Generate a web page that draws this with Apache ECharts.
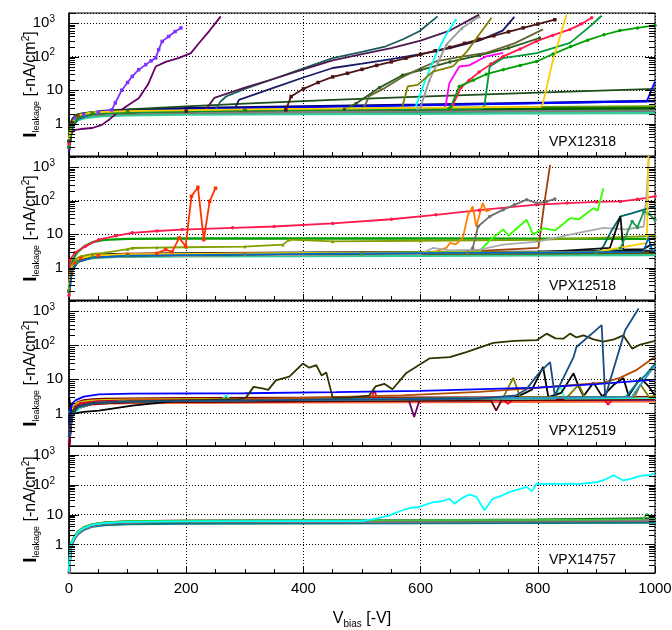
<!DOCTYPE html>
<html>
<head>
<meta charset="utf-8">
<script src="https://cdn.jsdelivr.net/npm/echarts@6/dist/echarts.min.js"></script>
<style>html,body{margin:0;padding:0;background:#fff}#c{width:672px;height:630px}</style>
</head>
<body>
<div id="c"></div>
<script>
// ---------------- DATA ----------------
const panelNames = ['VPX12318', 'VPX12518', 'VPX12519', 'VPX14757'];
const xTicks = [0, 200, 400, 600, 800, 1000];
const vBase = [0, 3, 6, 10, 15, 25, 40, 60, 100, 200, 400, 600, 800, 1000];

// Panel 1 (VPX12318) baseline currents at vBase
const p1Yellow = [0.35, 0.9, 1.4, 1.7, 1.85, 2.0, 2.15, 2.25, 2.35, 2.45, 2.55, 2.65, 2.75, 2.85];
const p1Orange = [0.3, 0.8, 1.3, 1.6, 1.8, 1.95, 2.05, 2.15, 2.25, 2.35, 2.45, 2.55, 2.6, 2.7];
const p1Red = [0.25, 0.7, 1.1, 1.45, 1.65, 1.85, 2.0, 2.1, 2.2, 2.3, 2.4, 2.45, 2.5, 2.55];
const p1BlueB = [0.15, 0.5, 0.9, 1.3, 1.55, 1.75, 1.9, 2.0, 2.1, 2.2, 2.3, 2.35, 2.4, 2.45];
const p1OliveGreen = [0.3, 0.7, 1.1, 1.4, 1.6, 1.8, 2.0, 2.15, 2.3, 2.5, 2.7, 2.9, 3.1, 3.3];
const p1Teal = [0.2, 0.5, 0.8, 1.1, 1.3, 1.5, 1.7, 1.85, 2.0, 2.1, 2.2, 2.3, 2.35, 2.4];
const p1SeaGreen = [0.3, 0.6, 0.9, 1.1, 1.3, 1.45, 1.6, 1.7, 1.8, 1.9, 1.95, 2.0, 2.05, 2.1];
const p1Green = [0.25, 0.6, 1.0, 1.3, 1.5, 1.7, 1.85, 1.95, 2.05, 2.15, 2.3, 2.4, 2.5, 2.6];
const p1Navy = [0.3, 0.8, 1.3, 1.6, 1.8, 2.0, 2.2, 2.4, 2.6, 2.9, 3.3, 3.7, 4.2, 4.8];
const p1GrayB = [0.2, 0.6, 1.0, 1.3, 1.5, 1.7, 1.85, 1.95, 2.05, 2.15, 2.25, 2.35, 2.45, 2.5];
const p1DarkGreen = [0.4, 0.9, 1.4, 1.7, 1.9, 2.05, 2.2, 2.3, 2.4, 2.5, 2.6, 2.7, 2.8, 2.9];

// Panel 1 breakdown curves [V, I]
const p1Violet = [[0,0.2],[4,0.9],[10,1.5],[25,1.9],[50,2.2],[73,2.6],[79,4.2],[90,10],[100,17],[108,26],[119,41],[131,58],[140,75],[148,92],[153,162],[159,285],[170,400],[181,560],[191,720]];
const p1Purple = [[0,0.15],[4,0.5],[8,0.65],[20,0.7],[40,0.75],[56,0.93],[70,1.4],[85,2.3],[100,3.5],[119,5.8],[135,15],[148,51],[165,70],[188,92],[208,128],[222,256],[240,600],[259,1590]];
const p1DarkTeal = [[0,0.3],[5,1.1],[15,1.7],[40,2.0],[100,2.2],[200,2.4],[250,2.6],[258,4.5],[268,6.5],[300,11],[350,22],[400,45],[450,90],[500,140],[541,204],[570,330],[598,570],[629,1590]];
const p1DarkPurple = [[0,0.3],[5,1.1],[15,1.7],[40,2.0],[100,2.2],[200,2.4],[233,2.6],[248,5.9],[300,12],[350,22],[400,42],[450,78],[500,120],[550,180],[600,300],[650,600],[700,1790]];
const p1Navy2 = [[0,0.3],[5,1.1],[15,1.7],[40,2.0],[100,2.2],[200,2.4],[282,2.6],[290,5.2],[350,12],[400,24],[450,46],[500,62],[550,85],[600,120],[650,180],[700,300],[740,600],[760,1540]];
const p1Maroon = [[0,0.3],[5,1.1],[15,1.7],[40,2.0],[100,2.2],[200,2.4],[300,2.5],[370,2.6],[379,6.5],[400,11],[425,17],[450,25],[475,32],[500,42],[525,55],[550,70],[575,90],[600,117],[625,150],[650,190],[675,250],[700,330],[725,420],[750,550],[775,720],[800,940],[829,1260]];
const p1DarkGreenLong = [[0,0.4],[5,1.2],[15,1.8],[40,2.1],[79,2.6],[100,2.7],[200,3.3],[300,4.0],[450,5.2],[600,6.5],[800,8.5],[1000,11]];
const p1DarkGreen2 = [[0,0.3],[5,1.0],[15,1.6],[40,2.0],[100,2.2],[300,2.5],[470,2.7],[490,4],[530,12],[569,28],[600,40],[650,70],[700,110],[750,180],[803,360]];
const p1OliveDark = [[0,0.3],[5,1.0],[15,1.6],[40,2.0],[100,2.2],[300,2.5],[500,2.8],[505,3.5],[512,6.6],[540,12],[569,25],[600,45],[626,72],[670,100],[712,130],[760,250],[809,650]];
const p1Gray = [[0,0.25],[5,0.9],[15,1.6],[40,2.0],[100,2.2],[300,2.5],[595,2.9],[600,3.2],[615,20],[630,70],[644,230],[670,700],[700,1580]];
const p1Cyan = [[0,0.3],[5,1.0],[15,1.7],[40,2.1],[100,2.3],[300,2.6],[588,2.9],[592,3.3],[606,16],[626,115],[645,500],[661,1330]];
const p1Olive = [[0,0.3],[5,1.0],[15,1.7],[40,2.1],[100,2.3],[300,2.6],[565,2.9],[569,3.3],[578,13],[595,14.5],[621,36],[655,51],[680,150],[700,460],[721,1450]];
const p1Magenta = [[0,0.2],[5,0.8],[15,1.5],[40,2.0],[100,2.2],[300,2.5],[640,2.8],[643,3.7],[649,16],[666,51],[683,55],[700,80],[712,102],[741,130]];
const p1RedBd = [[0,0.25],[5,0.9],[15,1.6],[40,2.0],[100,2.2],[300,2.5],[650,2.8],[655,3.7],[669,12],[683,20],[700,35],[720,60],[741,102],[770,170],[798,290],[825,430],[855,650],[875,950],[892,1440]];
const p1GreenA = [[0,0.2],[5,0.8],[15,1.5],[40,2.0],[100,2.2],[300,2.5],[648,2.8],[652,3.3],[666,13],[690,20],[712,30],[741,41],[770,55],[798,72],[826,120],[856,200],[885,310],[913,450],[940,600],[970,720],[1000,850]];
const p1GreenB = [[0,0.2],[5,0.8],[15,1.5],[40,2.0],[100,2.2],[300,2.5],[705,2.8],[709,3.5],[718,51],[741,91],[798,128],[855,257],[889,800],[909,1660]];
const p1Gold = [[0,0.35],[5,1.1],[15,1.8],[40,2.2],[100,2.4],[300,2.7],[805,3.2],[809,4.2],[826,81],[849,1780]];
const p1Blue = [[0,0.15],[5,0.7],[15,1.4],[40,2.0],[100,2.4],[300,2.9],[500,3.3],[800,4.1],[986,4.7],[1000,18]];

// Panel 2 (VPX12518) baseline currents at vBase
const p2Blue = [0.15, 0.6, 1.1, 1.5, 1.8, 2.1, 2.3, 2.4, 2.5, 2.6, 2.7, 2.8, 2.9, 3.0];
const p2Gray = [0.2, 0.7, 1.2, 1.6, 1.9, 2.1, 2.25, 2.35, 2.45, 2.5, 2.55, 2.6, 2.7, 2.8];
const p2Teal = [0.15, 0.5, 1.0, 1.4, 1.7, 1.9, 2.05, 2.15, 2.2, 2.3, 2.4, 2.45, 2.5, 2.6];
const p2Brown = [0.2, 0.6, 1.0, 1.4, 1.7, 1.9, 2.1, 2.2, 2.3, 2.4, 2.5, 2.6, 2.65, 2.7];
const p2SeaGreen = [0.2, 0.6, 1.0, 1.3, 1.6, 1.8, 1.95, 2.05, 2.15, 2.2, 2.25, 2.3, 2.35, 2.4];
const p2Black = [0.2, 0.7, 1.2, 1.6, 1.9, 2.2, 2.4, 2.5, 2.6, 2.7, 2.8, 2.9, 3.0, 3.2];
const p2Green = [0.3, 1.0, 1.6, 2.3, 3.0, 4.2, 5.8, 6.8, 7.3, 7.5, 7.5, 7.5, 7.4, 7.3];
const p2DarkOlive = [0.2, 0.7, 1.2, 1.6, 1.9, 2.1, 2.3, 2.4, 2.5, 2.55, 2.6, 2.65, 2.7, 2.8];

// Panel 2 curves [V, I]
const p2OliveGreen = [[0,0.25],[3,0.8],[6,1.3],[10,1.7],[20,2.2],[40,2.6],[60,2.8],[100,3.6],[108,3.9],[150,4.0],[200,4.1],[300,4.3],[365,4.9],[376,6.9],[450,6.1],[600,6.4],[800,6.8],[1000,9]];
const p2Red = [[0,0.15],[2,1.8],[10,2.8],[28,4.4],[51,6.9],[80,9],[108,11],[150,12.5],[193,13.8],[279,15.5],[350,17],[450,21],[550,28],[626,38],[700,52],[798,76],[850,85],[900,92],[941,95],[970,110],[1000,135]];
const p2OrangeRed = [[0,0.2],[4,0.8],[10,1.4],[20,1.9],[50,2.3],[100,2.5],[150,2.7],[165,3.5],[176,3.0],[188,7.8],[199,4.4],[209,135],[220,250],[230,6.9],[240,95],[250,235]];
const p2Orange = [[0,0.25],[5,1.0],[15,1.8],[40,2.3],[100,2.5],[300,2.7],[500,2.85],[621,2.9],[644,3.9],[650,5.5],[660,5.0],[672,7.8],[681,38],[689,67],[695,17],[706,85],[712,48],[720,54]];
const p2DarkGray = [[0,0.2],[5,0.9],[15,1.6],[40,2.1],[100,2.3],[300,2.5],[500,2.6],[680,2.8],[689,3.9],[698,17],[718,34],[741,54],[760,75],[781,107],[798,85],[815,95],[829,112]];
const p2BrownBd = [[0,0.2],[5,0.9],[15,1.5],[40,2.0],[100,2.2],[300,2.4],[600,2.6],[801,3.9],[811,80],[821,1170]];
const p2LawnGreen = [[0,0.25],[5,1],[15,1.7],[40,2.2],[100,2.4],[300,2.6],[500,2.8],[700,3.0],[706,4.0],[720,7],[741,14],[750,9],[781,27],[792,9.8],[810,15],[830,13],[855,30],[870,28],[895,60],[902,50],[912,235]];
const p2LightGray = [[0,0.2],[5,0.8],[15,1.5],[40,2.0],[100,2.2],[300,2.4],[500,2.5],[600,2.6],[621,3.9],[650,3.3],[700,3.5],[741,4.9],[800,6],[855,9.8],[880,12],[912,15.5],[950,14],[981,17],[986,200],[990,2500]];
const p2DarkTeal = [[0,0.2],[5,0.9],[15,1.6],[40,2.1],[100,2.3],[400,2.6],[700,2.8],[905,3.0],[912,4.4],[925,12],[941,34],[960,42],[981,54],[1000,65]];
const p2BlackBd = [[0,0.2],[5,0.9],[15,1.6],[40,2.1],[100,2.3],[400,2.6],[800,2.9],[923,3.9],[941,34],[946,3.5],[980,3.6],[990,4.5],[1000,5]];
const p2SeaGreenBd = [[0,0.2],[5,0.8],[15,1.5],[40,2.0],[100,2.3],[500,2.7],[900,2.9],[941,3.8],[961,24],[970,16],[981,48],[990,40],[1000,27]];
const p2Yellow = [[0,0.3],[5,1.1],[15,1.8],[40,2.3],[100,2.5],[500,2.8],[900,3.0],[986,5.5],[989,2500]];
const p2Blue2 = [[0,0.2],[5,0.8],[15,1.5],[40,2.0],[100,2.3],[500,2.7],[980,3.0],[989,8],[995,3.2],[1000,3.3]];

// Panel 3 (VPX12519) baseline currents at vBase
const p3Orange = [0.12, 0.5, 0.9, 1.2, 1.5, 1.7, 1.85, 1.95, 2.0, 2.05, 2.1, 2.15, 2.2, 2.25];
const p3Green = [0.15, 0.7, 1.2, 1.6, 1.9, 2.1, 2.25, 2.35, 2.45, 2.5, 2.55, 2.6, 2.65, 2.7];
const p3Gray = [0.15, 0.6, 1.1, 1.5, 1.8, 2.0, 2.15, 2.25, 2.3, 2.35, 2.4, 2.45, 2.5, 2.55];
const p3DarkRed = [0.2, 0.8, 1.3, 1.8, 2.1, 2.4, 2.55, 2.65, 2.7, 2.8, 2.85, 2.9, 2.95, 3.0];
const p3SeaGreen = [0.2, 0.7, 1.2, 1.6, 1.9, 2.1, 2.25, 2.35, 2.4, 2.45, 2.5, 2.55, 2.6, 2.65];
const p3CyanB = [1.1, 0.95, 0.9, 1.2, 1.6, 1.9, 2.1, 2.2, 2.3, 2.35, 2.4, 2.45, 2.5, 2.55];
const p3Violet = [0.1, 0.5, 1.0, 1.4, 1.7, 1.95, 2.1, 2.2, 2.3, 2.35, 2.4, 2.45, 2.5, 2.55];
const p3Yellow = [0.2, 0.8, 1.3, 1.7, 2.0, 2.2, 2.35, 2.45, 2.5, 2.55, 2.6, 2.65, 2.7, 2.75];

// Panel 3 curves [V, I]
const p3Blue = [[0,0.2],[2,1.2],[6,2.0],[11,2.4],[25,3.1],[51,3.6],[108,3.8],[300,3.9],[455,4.2],[600,4.6],[798,5.7],[900,7.2],[1000,9.8]];
const p3DarkOlive = [[0,0.3],[5,1.1],[15,1.6],[40,2.0],[100,2.2],[200,2.4],[290,2.6],[302,2.9],[315,6],[330,5.4],[340,4.9],[353,9.3],[376,12],[399,29],[410,22],[422,26],[431,13],[439,16],[450,2.9],[480,2.9],[512,3.3],[523,6.2],[538,7.4],[552,5.1],[575,15],[615,41],[650,45],[678,63],[724,117],[760,135],[798,141],[815,220],[830,160],[844,158],[855,220],[866,170],[878,195],[895,150],[912,128],[930,150],[946,195],[961,80],[975,105],[1000,134]];
const p3Navy = [[0,0.2],[5,0.9],[15,1.5],[40,2.0],[100,2.2],[400,2.5],[700,2.7],[763,3.4],[780,5],[803,16],[821,32],[829,3.4],[861,45],[866,89],[909,390],[915,3.0],[949,275],[972,1200]];
const p3Brown = [[0,0.2],[5,0.9],[15,1.6],[40,2.0],[100,2.3],[300,2.6],[569,3.4],[700,4.3],[798,5.6],[912,8],[940,11],[969,19],[1000,46]];
const p3Black = [[0,3],[3,1.5],[6,0.9],[10,1.0],[25,1.1],[51,1.2],[108,1.7],[193,2.4],[300,2.5],[500,2.6],[760,2.8],[790,5],[809,23],[818,3.0],[840,4],[861,15],[870,6],[878,3.2],[895,8],[910,3.1],[930,7],[946,11],[955,3.3],[975,11],[990,6],[1000,3.3]];
const p3Olive = [[0,0.2],[5,0.9],[15,1.5],[40,2.0],[100,2.3],[400,2.5],[740,2.7],[758,11],[770,3.0],[850,3.0],[870,7],[880,3.0],[965,3.0],[975,7],[990,3.0],[1000,3.3]];
const p3Teal = [[0,0.2],[5,0.9],[15,1.5],[40,2.0],[100,2.3],[500,2.6],[950,3.0],[970,8],[985,14],[1000,29]];
const p3SteelBlue = [[0,0.2],[5,0.9],[15,1.5],[40,2.0],[100,2.3],[500,2.6],[960,3.0],[980,9],[1000,25]];
const p3Aqua = [[0,1.2],[3,1.0],[6,0.85],[10,1.0],[20,1.5],[40,2.0],[100,2.2],[200,2.3],[260,2.4],[268,3.4],[276,2.4],[500,2.55],[830,2.7],[838,6.6],[846,2.7],[1000,2.8]];
const p3Purple = [[0,0.1],[5,0.8],[15,1.4],[40,1.9],[100,2.1],[400,2.3],[580,2.4],[589,0.78],[598,2.4],[1000,2.6]];
const p3RedSp = [[0,0.1],[4,0.7],[10,1.4],[40,2.0],[100,2.2],[500,2.5],[515,2.5],[521,4.7],[527,2.5],[740,2.6],[749,1.9],[758,2.6],[912,2.7],[920,1.8],[928,2.7],[1000,2.8]];
const p3Maroon = [[0,0.1],[5,0.8],[15,1.4],[40,1.9],[100,2.1],[500,2.3],[720,2.4],[729,1.2],[738,2.4],[1000,2.6]];
const p3Crimson = [[0,0.08],[3,0.4],[6,1.0],[10,1.6],[20,2.0],[50,2.3],[100,2.4],[500,2.6],[1000,2.8]];

// Panel 4 (VPX14757) baseline currents at vBase
const p4Gray = [0.12, 1.0, 1.3, 1.9, 2.6, 3.6, 4.6, 5.3, 5.8, 6.1, 6.2, 6.3, 6.4, 6.6];
const p4Teal = [0.1, 0.8, 1.1, 1.6, 2.2, 3.1, 4.0, 4.5, 4.8, 5.0, 5.1, 5.2, 5.3, 5.4];
const p4Red = [0.12, 1.0, 1.3, 1.9, 2.6, 3.7, 4.7, 5.4, 5.9, 6.2, 6.3, 6.4, 6.5, 6.6];
const p4DarkGreen = [0.12, 0.9, 1.2, 1.8, 2.5, 3.5, 4.5, 5.2, 5.7, 6.0, 6.2, 6.4, 6.8, 7.5];
const p4Olive = [0.1, 0.9, 1.2, 1.7, 2.4, 3.4, 4.4, 5.1, 5.6, 5.9, 6.0, 6.1, 6.2, 6.3];
const p4DarkGray = [0.11, 0.9, 1.2, 1.8, 2.5, 3.5, 4.5, 5.2, 5.7, 6.0, 6.1, 6.2, 6.3, 6.4];
const p4Pink = [0.1, 0.85, 1.15, 1.7, 2.4, 3.3, 4.3, 5.0, 5.5, 5.8, 5.9, 6.0, 6.1, 6.2];

// Panel 4 curves [V, I]
const p4Green = [[0,0.15],[3,1.1],[6,1.4],[10,2.0],[15,2.7],[25,3.8],[40,4.8],[60,5.5],[100,6.0],[200,6.3],[400,6.4],[600,6.5],[800,6.7],[980,7.0],[986,11],[992,7.2],[1000,7.2]];
const p4Cyan = [[0,0.12],[3,1.0],[6,1.3],[10,1.8],[15,2.5],[25,3.5],[40,4.5],[60,5.2],[100,5.7],[200,5.9],[400,6.0],[500,6.1],[524,7.3],[546,9.3],[569,14],[583,17],[598,18],[610,22],[621,26],[635,28],[649,34],[658,23],[670,35],[683,47],[695,40],[709,14],[723,34],[737,42],[752,58],[767,70],[781,85],[790,60],[798,110],[812,105],[826,110],[840,105],[855,110],[870,105],[886,115],[901,123],[915,150],[929,210],[946,140],[960,160],[975,200],[990,210],[1000,240]];

// ---------------- SERIES SPEC (styles kept here) ----------------
const baseSpec = [
  [0, p1Yellow, '#ffcc00'], [0, p1Orange, '#ff6600'], [0, p1Red, '#ff3300'], [0, p1BlueB, '#0066ff'],
  [0, p1OliveGreen, '#669900'], [0, p1Teal, '#008080'], [0, p1SeaGreen, '#33cc99'], [0, p1Green, '#339933'],
  [0, p1Navy, '#000080'], [0, p1GrayB, '#808080'], [0, p1DarkGreen, '#006600'],
  [1, p2Blue, '#1a66cc'], [1, p2Gray, '#999999'], [1, p2Teal, '#009999'], [1, p2Brown, '#663300'],
  [1, p2SeaGreen, '#33cc99'], [1, p2Black, '#1a1a1a'], [1, p2Green, '#00a000'], [1, p2DarkOlive, '#665500'],
  [2, p3Orange, '#ff6633'], [2, p3Green, '#66aa33'], [2, p3Gray, '#999999'], [2, p3DarkRed, '#800000'],
  [2, p3SeaGreen, '#33cc99'], [2, p3CyanB, '#00cccc'], [2, p3Violet, '#9933cc'], [2, p3Yellow, '#cccc00'],
  [3, p4Teal, '#007a7a'], [3, p4Olive, '#999966'], [3, p4Pink, '#cc6699'], [3, p4Red, '#cc3366'],
  [3, p4DarkGreen, '#1a4d1a'], [3, p4DarkGray, '#595959'], [3, p4Gray, '#808080']
];
const curveSpec = [
  [0, p1DarkGreenLong, '#1a4d1a', 'none'], [0, p1Blue, '#0000ff', 'none'],
  [0, p1Violet, '#8033ff', 'rect'], [0, p1Purple, '#660066', 'none'], [0, p1DarkTeal, '#1a5c5c', 'none'],
  [0, p1DarkPurple, '#4d1a4d', 'none'], [0, p1Navy2, '#1a1a66', 'none'], [0, p1Maroon, '#4d1414', 'rect'],
  [0, p1DarkGreen2, '#2d5a1e', 'circle'], [0, p1OliveDark, '#666633', 'none'], [0, p1Gray, '#999999', 'triangle'],
  [0, p1Cyan, '#00ffff', 'none'], [0, p1Olive, '#808000', 'none'], [0, p1Magenta, '#ff00ff', 'none'],
  [0, p1RedBd, '#ff1a4d', 'circle'], [0, p1GreenA, '#00a000', 'circle'], [0, p1GreenB, '#009933', 'none'],
  [0, p1Gold, '#ffcc00', 'none'],
  [1, p2OliveGreen, '#80a000', 'triangle'], [1, p2Red, '#ff1a4d', 'circle'], [1, p2OrangeRed, '#ff3300', 'rect'],
  [1, p2Orange, '#ff8000', 'none'], [1, p2DarkGray, '#707070', 'circle'], [1, p2BrownBd, '#a0400f', 'none'],
  [1, p2LawnGreen, '#33ff00', 'none'], [1, p2LightGray, '#aaaaaa', 'none'], [1, p2DarkTeal, '#006666', 'none'],
  [1, p2BlackBd, '#0d0d0d', 'none'], [1, p2SeaGreenBd, '#1f9955', 'circle'], [1, p2Yellow, '#ffcc00', 'none'],
  [1, p2Blue2, '#0066cc', 'none'],
  [2, p3Crimson, '#cc0033', 'none'], [2, p3Purple, '#660066', 'none'], [2, p3RedSp, '#ff0033', 'none'],
  [2, p3Maroon, '#660000', 'none'], [2, p3Aqua, '#33ffcc', 'none'], [2, p3Black, '#000000', 'none'],
  [2, p3Olive, '#808000', 'none'], [2, p3Teal, '#008080', 'none'], [2, p3SteelBlue, '#3399cc', 'none'],
  [2, p3Brown, '#b34d00', 'none'], [2, p3Blue, '#0000ff', 'none'], [2, p3DarkOlive, '#333300', 'none'],
  [2, p3Navy, '#1a4d80', 'none'],
  [3, p4Green, '#33cc33', 'none'], [3, p4Cyan, '#00ffff', 'none']
];

// ---------------- LAYOUT ----------------
const FONT = '"Liberation Sans", Arial, Helvetica, sans-serif';
const X0 = 69, XW = 586;
const panels = [
  { top: 13, height: 143, labelTop: 135 },
  { top: 157, height: 143, labelTop: 279 },
  { top: 301, height: 145, labelTop: 424 },
  { top: 446, height: 127, labelTop: 553 }
];
const Y_MIN = 0.11, Y_MAX = 2000;

// y ticks (decoration): majors at powers of ten, minors at 2..9
const yTickData = [];
for (let k = -1; k <= 3; k++) {
  for (let m = 1; m <= 9; m++) {
    const v = m * Math.pow(10, k);
    if (v >= Y_MIN && v <= Y_MAX) yTickData.push([0, v, m === 1 ? 1 : 0]);
  }
}

function isPow10(v) {
  const l = Math.log10(v);
  return Math.abs(l - Math.round(l)) < 1e-6;
}

const grids = [], xAxes = [], yAxes = [], series = [], titles = [];
panels.forEach((p, i) => {
  grids.push({ left: X0, width: XW, top: p.top, height: p.height, show: true, borderColor: '#000', borderWidth: 1,
    backgroundColor: 'transparent', containLabel: false, outerBoundsMode: 'none' });
  const last = i === panels.length - 1;
  xAxes.push({
    type: 'value', gridIndex: i, min: xTicks[0], max: xTicks[xTicks.length - 1], interval: xTicks[1] - xTicks[0],
    axisLine: { show: true, lineStyle: { color: '#000', width: 1 } },
    axisTick: { show: true, inside: true, length: 6, lineStyle: { color: '#000' } },
    minorTick: { show: true, splitNumber: 4, length: 4, lineStyle: { color: '#000' } },
    splitLine: { show: true, lineStyle: { color: '#000', type: [1, 2], width: 1 } },
    axisLabel: { show: last, color: '#000', fontSize: 15, fontFamily: FONT, margin: 8, formatter: v => String(v) },
    name: last ? 'V{s|bias} [-V]' : '',
    nameLocation: 'middle', nameGap: 36, nameMoveOverlap: false,
    nameTextStyle: { color: '#000', fontSize: 16, fontFamily: FONT, lineHeight: 20,
      rich: { s: { fontSize: 10, fontFamily: FONT, color: '#000', verticalAlign: 'bottom', lineHeight: 12 } } }
  });
  yAxes.push({
    type: 'log', logBase: 10, gridIndex: i, min: Y_MIN, max: Y_MAX,
    axisLine: { show: true, lineStyle: { color: '#000', width: 1.5 } },
    axisTick: { show: false },
    splitLine: { show: true, lineStyle: { color: '#000', type: [1, 2], width: 1 } },
    axisLabel: {
      color: '#000', fontSize: 15, fontFamily: FONT, margin: 6,
      formatter: v => {
        if (!isPow10(v)) return '';
        const k = Math.round(Math.log10(v));
        if (k === 0) return '1';
        if (k === 1) return '10';
        if (k < 0) return '';
        return '{b|10}{e|' + k + '}';
      },
      rich: {
        b: { fontSize: 15, fontFamily: FONT, color: '#000', lineHeight: 18 },
        e: { fontSize: 10, fontFamily: FONT, color: '#000', verticalAlign: 'top', lineHeight: 10, padding: [0, 8, 0, 0] }
      }
    },
    name: '{i|I}{s|leakage}{t| [-nA/cm}{p|2}{t|]}',
    nameLocation: 'middle', nameRotate: 90, nameGap: 28, nameMoveOverlap: false,
    nameTextStyle: { color: '#000', fontFamily: FONT, fontSize: 16, lineHeight: 20,
      rich: {
        i: { fontSize: 19, fontWeight: 'bold', fontFamily: FONT, color: '#000', lineHeight: 20 },
        s: { fontSize: 9, fontFamily: FONT, color: '#000', verticalAlign: 'bottom', lineHeight: 11 },
        t: { fontSize: 16, fontFamily: FONT, color: '#000', lineHeight: 20 },
        p: { fontSize: 10, fontFamily: FONT, color: '#000', verticalAlign: 'top', lineHeight: 11 }
      } }
  });
  titles.push({ text: panelNames[i], left: 549, top: p.labelTop, padding: 0,
    textStyle: { fontSize: 14, fontWeight: 'normal', color: '#000', fontFamily: FONT } });
  // tick marks on left and right frame
  series.push({
    type: 'custom', xAxisIndex: i, yAxisIndex: i, data: yTickData, encode: { x: 0, y: 1 }, silent: true, z: 5,
    clip: false,
    renderItem: (params, api) => {
      const v = api.value(1);
      const a = api.coord([xTicks[0], v]);
      const b = api.coord([xTicks[xTicks.length - 1], v]);
      const L = api.value(2) === 1 ? 10 : 6;
      const y = Math.round(a[1]) + 0.5;
      return { type: 'group', children: [
        { type: 'line', shape: { x1: a[0], y1: y, x2: a[0] + L, y2: y }, style: { stroke: '#000', lineWidth: 1 } },
        { type: 'line', shape: { x1: b[0], y1: y, x2: b[0] - L, y2: y }, style: { stroke: '#000', lineWidth: 1 } }
      ] };
    }
  });
});

baseSpec.forEach(([pi, arr, color]) => {
  series.push({
    type: 'line', xAxisIndex: pi, yAxisIndex: pi, data: vBase.map((v, j) => [v, arr[j]]),
    showSymbol: false, symbol: 'none', smooth: false, lineStyle: { color, width: 2.4 }, itemStyle: { color }, z: 2
  });
});
curveSpec.forEach(([pi, arr, color, sym]) => {
  series.push({
    type: 'line', xAxisIndex: pi, yAxisIndex: pi, data: arr,
    symbol: sym, showSymbol: sym !== 'none', symbolSize: 3.5, lineStyle: { color, width: 1.8 }, itemStyle: { color }, z: 3
  });
});

const chart = echarts.init(document.getElementById('c'), null, { renderer: 'canvas' });
chart.setOption({
  animation: false,
  backgroundColor: '#fff',
  title: titles,
  grid: grids,
  xAxis: xAxes,
  yAxis: yAxes,
  series: series
});
</script>
</body>
</html>
